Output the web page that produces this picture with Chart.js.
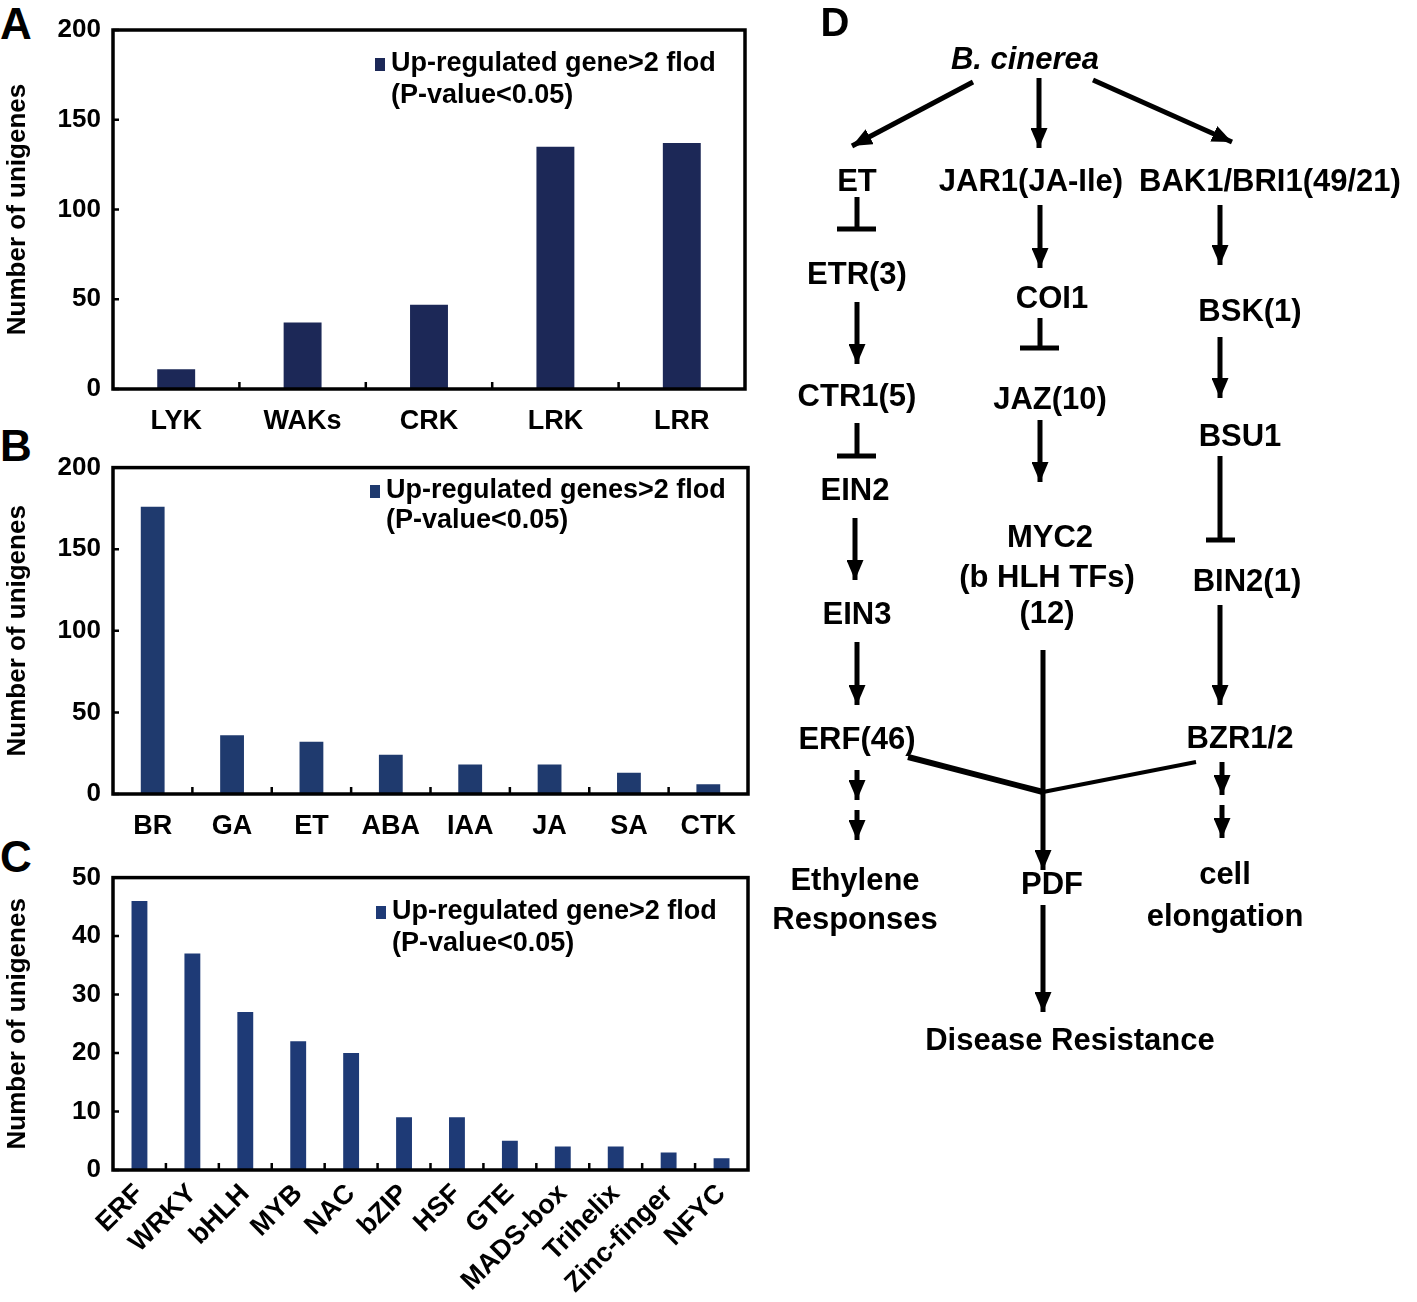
<!DOCTYPE html>
<html>
<head>
<meta charset="utf-8">
<script src="https://cdn.jsdelivr.net/npm/chart.js@4.4.0/dist/chart.umd.min.js"></script>
<style>
  body { margin: 0; background: #fff; width: 1417px; height: 1302px; overflow: hidden; position: relative; font-family: "Liberation Sans", Arial, sans-serif; }
  canvas { position: absolute; left: 0; }
  .tag { position: absolute; font-weight: bold; font-size: 44px; line-height: 1; color: #000; }
  svg { position: absolute; left: 0; top: 0; }
</style>
</head>
<body>
<div class="tag" style="left:0px;top:2px">A</div>
<div class="tag" style="left:0px;top:424px">B</div>
<div class="tag" style="left:0px;top:835px">C</div>

<canvas id="chartA" width="760" height="445" style="top:0px"></canvas>
<canvas id="chartB" width="760" height="410" style="top:440px"></canvas>
<canvas id="chartC" width="760" height="452" style="top:850px"></canvas>

<svg width="1417" height="1302" xmlns="http://www.w3.org/2000/svg">
  <defs>
    <marker id="ah" markerWidth="4" markerHeight="3.4" refX="4" refY="1.7" orient="auto" markerUnits="strokeWidth">
      <path d="M0,0 L4,1.7 L0,3.4 z" fill="#000"/>
    </marker>
  </defs>
  <g font-family="Liberation Sans, Arial, sans-serif" font-weight="bold" font-size="31" fill="#000" text-anchor="middle" dominant-baseline="central">
    <text x="835" y="22" font-size="40">D</text>
    <text x="1025" y="58" font-style="italic">B. cinerea</text>
    <text x="857" y="180">ET</text>
    <text x="1031" y="180">JAR1(JA-Ile)</text>
    <text x="1270" y="180">BAK1/BRI1(49/21)</text>
    <text x="857" y="273">ETR(3)</text>
    <text x="1052" y="297">COI1</text>
    <text x="1250" y="310">BSK(1)</text>
    <text x="857" y="395">CTR1(5)</text>
    <text x="1050" y="398">JAZ(10)</text>
    <text x="1240" y="435">BSU1</text>
    <text x="855" y="489">EIN2</text>
    <text x="1050" y="536">MYC2</text>
    <text x="1047" y="576">(b HLH TFs)</text>
    <text x="1047" y="612">(12)</text>
    <text x="1247" y="580">BIN2(1)</text>
    <text x="857" y="613">EIN3</text>
    <text x="857" y="738">ERF(46)</text>
    <text x="1240" y="737">BZR1/2</text>
    <text x="855" y="879">Ethylene</text>
    <text x="855" y="918">Responses</text>
    <text x="1052" y="883">PDF</text>
    <text x="1225" y="873">cell</text>
    <text x="1225" y="915">elongation</text>
    <text x="1070" y="1039">Disease Resistance</text>
  </g>
  <g stroke="#000" stroke-width="5" fill="none">
    <!-- from B. cinerea -->
    <line x1="973" y1="82" x2="852" y2="146" marker-end="url(#ah)"/>
    <line x1="1039" y1="78" x2="1039" y2="148" marker-end="url(#ah)"/>
    <line x1="1093" y1="80" x2="1232" y2="142" marker-end="url(#ah)"/>
    <!-- ET column -->
    <line x1="857" y1="197" x2="857" y2="229"/>
    <line x1="837" y1="229" x2="876" y2="229"/>
    <line x1="857" y1="302" x2="857" y2="364" marker-end="url(#ah)"/>
    <line x1="857" y1="423" x2="857" y2="456"/>
    <line x1="837" y1="456" x2="876" y2="456"/>
    <line x1="855" y1="518" x2="855" y2="580" marker-end="url(#ah)"/>
    <line x1="857" y1="642" x2="857" y2="705" marker-end="url(#ah)"/>
    <line x1="857" y1="770" x2="857" y2="800" marker-end="url(#ah)"/>
    <line x1="857" y1="810" x2="857" y2="840" marker-end="url(#ah)"/>
    <!-- JA column -->
    <line x1="1040" y1="205" x2="1040" y2="268" marker-end="url(#ah)"/>
    <line x1="1040" y1="318" x2="1040" y2="348"/>
    <line x1="1020" y1="348" x2="1059" y2="348"/>
    <line x1="1040" y1="420" x2="1040" y2="482" marker-end="url(#ah)"/>
    <line x1="1043" y1="650" x2="1043" y2="870" marker-end="url(#ah)"/>
    <line x1="1043" y1="905" x2="1043" y2="1012" marker-end="url(#ah)"/>
    <!-- BR column -->
    <line x1="1220" y1="205" x2="1220" y2="265" marker-end="url(#ah)"/>
    <line x1="1220" y1="337" x2="1220" y2="398" marker-end="url(#ah)"/>
    <line x1="1220" y1="456" x2="1220" y2="540"/>
    <line x1="1206" y1="540" x2="1235" y2="540"/>
    <line x1="1220" y1="605" x2="1220" y2="705" marker-end="url(#ah)"/>
    <line x1="1222" y1="762" x2="1222" y2="795" marker-end="url(#ah)"/>
    <line x1="1222" y1="805" x2="1222" y2="838" marker-end="url(#ah)"/>
    <!-- junction -->
    <line x1="908" y1="757" x2="1043" y2="792" stroke-width="6"/>
    <line x1="1196" y1="762" x2="1043" y2="792" stroke-width="4"/>
  </g>
</svg>

<script>
// panel A: receptor kinases
var kinaseNames = ["LYK", "WAKs", "CRK", "LRK", "LRR"];
var kinaseCounts = [11, 37, 47, 135, 137];
var kinaseTicks = [0, 50, 100, 150, 200];

// panel B: hormone related
var hormoneNames = ["BR", "GA", "ET", "ABA", "IAA", "JA", "SA", "CTK"];
var hormoneCounts = [176, 36, 32, 24, 18, 18, 13, 6];
var hormoneTicks = [0, 50, 100, 150, 200];

// panel C: transcription factors
var tfNames = ["ERF", "WRKY", "bHLH", "MYB", "NAC", "bZIP", "HSF", "GTE", "MADS-box", "Trihelix", "Zinc-finger", "NFYC"];
var tfCounts = [46, 37, 27, 22, 20, 9, 9, 5, 4, 4, 3, 2];
var tfTicks = [0, 10, 20, 30, 40, 50];

var legendA = ["Up-regulated gene>2 flod", "(P-value<0.05)"];
var legendB = ["Up-regulated genes>2 flod", "(P-value<0.05)"];
var legendC = ["Up-regulated gene>2 flod", "(P-value<0.05)"];
var yTitle = "Number of unigenes";

var fontFam = '"Liberation Sans", Arial, sans-serif';

// box, inner ticks and legend
var framePlugin = {
  id: 'frame',
  afterDraw: function(chart) {
    var o = chart.options.plugins.frame;
    var ctx = chart.ctx;
    var a = chart.chartArea;
    var xs = chart.scales.x, ys = chart.scales.y;
    ctx.save();
    ctx.strokeStyle = '#000';
    ctx.lineWidth = 3.5;
    ctx.strokeRect(a.left, a.top, a.right - a.left, a.bottom - a.top);
    ctx.lineWidth = 2.5;
    ctx.beginPath();
    ys.ticks.forEach(function(t) {
      var y = ys.getPixelForValue(t.value);
      ctx.moveTo(a.left, y); ctx.lineTo(a.left + 6, y);
    });
    for (var i = 1; i < xs.ticks.length; i++) {
      var x = (xs.getPixelForValue(i - 1) + xs.getPixelForValue(i)) / 2;
      ctx.moveTo(x, a.bottom); ctx.lineTo(x, a.bottom - 7);
    }
    ctx.stroke();
    // legend
    ctx.fillStyle = o.color;
    ctx.fillRect(o.lx, o.ly - 6, 10, 13);
    ctx.fillStyle = '#000';
    ctx.font = 'bold 27px ' + fontFam;
    ctx.textBaseline = 'middle';
    ctx.textAlign = 'left';
    ctx.fillText(o.text[0], o.lx + 16, o.ly);
    ctx.fillText(o.text[1], o.lx + 16, o.ly + o.gap);
    ctx.restore();
  }
};

function makeChart(id, names, counts, ticks, color, cfg) {
  var ctx = document.getElementById(id);
  return new Chart(ctx, {
    type: 'bar',
    data: {
      labels: names,
      datasets: [{
        data: counts,
        backgroundColor: color,
        barPercentage: 0.3,
        categoryPercentage: 1
      }]
    },
    options: {
      responsive: false,
      animation: false,
      layout: { padding: { top: cfg.top, right: cfg.right, left: 0, bottom: 0 } },
      plugins: {
        legend: { display: false },
        tooltip: { enabled: false },
        frame: { color: color, text: cfg.legend, lx: cfg.lx, ly: cfg.ly, gap: cfg.gap }
      },
      scales: {
        x: {
          grid: { display: false, drawTicks: false },
          border: { display: false },
          ticks: {
            color: '#000',
            autoSkip: false,
            font: { family: fontFam, weight: 'bold', size: 27 },
            padding: cfg.xpad,
            maxRotation: cfg.rot,
            minRotation: cfg.rot
          },
          afterFit: function(s) { s.height = cfg.xh; }
        },
        y: {
          min: ticks[0],
          max: ticks[ticks.length - 1],
          afterBuildTicks: function(s) { s.ticks = ticks.map(function(v) { return { value: v }; }); },
          grid: { display: false, drawTicks: false },
          border: { display: false },
          ticks: {
            color: '#000',
            font: { family: fontFam, weight: 'bold', size: 26 },
            padding: 12
          },
          title: {
            display: true,
            text: yTitle,
            color: '#000',
            font: { family: fontFam, weight: 'bold', size: 26 },
            padding: { top: 2, bottom: 0 }
          },
          afterFit: function(s) { s.width = 113; }
        }
      }
    },
    plugins: [framePlugin]
  });
}

makeChart('chartA', kinaseNames, kinaseCounts, kinaseTicks, '#1c2857',
  { top: 30, right: 15, xh: 56, xpad: 16, rot: 0, legend: legendA, lx: 375, ly: 64, gap: 32 });
makeChart('chartB', hormoneNames, hormoneCounts, hormoneTicks, '#1f3a6e',
  { top: 18, right: 12, xh: 56, xpad: 16, rot: 0, legend: legendB, lx: 370, ly: 51, gap: 30 });
makeChart('chartC', tfNames, tfCounts, tfTicks, '#1e3a76',
  { top: 20, right: 12, xh: 132, xpad: 8, rot: 45, legend: legendC, lx: 376, ly: 62, gap: 32 });
</script>
</body>
</html>
